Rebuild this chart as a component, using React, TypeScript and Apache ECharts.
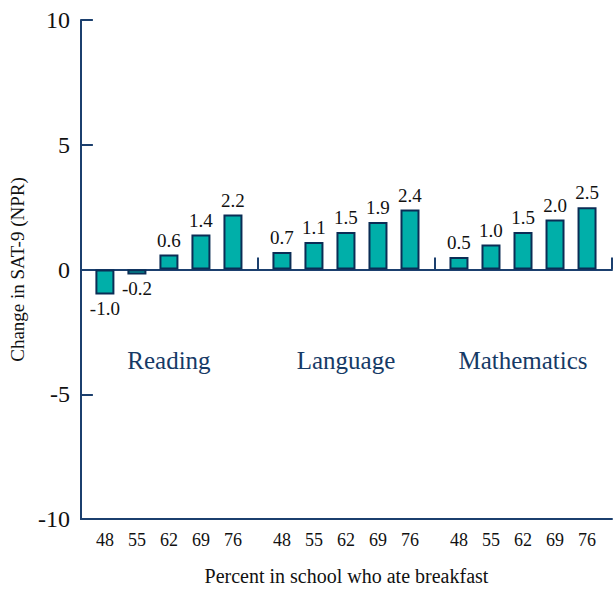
import React, { useEffect, useRef } from "react";
import * as echarts from "echarts";

// ---- data ----
const subjects = ["Reading", "Language", "Mathematics"];
const breakfastPct = ["48", "55", "62", "69", "76"];
const reading = [-1.0, -0.2, 0.6, 1.4, 2.2];
const language = [0.7, 1.1, 1.5, 1.9, 2.4];
const mathematics = [0.5, 1.0, 1.5, 2.0, 2.5];
const yMin = -10;
const yMax = 10;
const yStep = 5;

// ---- layout (slot units on a value x-axis) ----
const GROUP = 5.53;
const OFFSET = 0.75;
const NAVY = "#1b3f6e";
const LABEL_NAVY = "#163a66";
const BAR_FILL = "#00afa9";
const BAR_EDGE = "#0b2d55";
const SERIF = "Liberation Serif";

export default function App() {
  const ref = useRef<HTMLDivElement>(null);

  useEffect(() => {
    if (!ref.current) return;
    const chart = echarts.init(ref.current, undefined, { renderer: "svg" });

    const groups = [reading, language, mathematics];
    const positions: number[] = [];
    const barData: any[] = [];
    groups.forEach((vals, g) => {
      vals.forEach((v, i) => {
        const x = g * GROUP + OFFSET + i;
        positions.push(x);
        barData.push({
          value: [x, v],
          label: { position: v < 0 ? "bottom" : "top" },
        });
      });
    });
    const groupCenters = subjects.map((s, g) => ({
      value: [g * GROUP + OFFSET + 2, -3.5],
      name: s,
    }));
    const boundaries = subjects.map((_, g) => (g + 1) * GROUP);
    const xMax = subjects.length * GROUP;

    chart.setOption({
      animation: false,
      backgroundColor: "#ffffff",
      grid: { left: 76, right: 1, top: 20, bottom: 66, containLabel: false },
      xAxis: [
        {
          type: "value",
          position: "bottom",
          min: 0,
          max: xMax,
          name: "Percent in school who ate breakfast",
          nameLocation: "middle",
          nameGap: 47,
          nameTextStyle: { fontFamily: SERIF, fontSize: 20, color: "#111" },
          axisLine: { show: true, onZero: false, lineStyle: { color: NAVY, width: 2 } },
          axisTick: { show: false },
          splitLine: { show: false },
          axisLabel: {
            customValues: positions,
            margin: 12,
            fontFamily: SERIF,
            fontSize: 18,
            color: "#111",
            formatter: (val: number) => {
              const idx = positions.findIndex((p) => Math.abs(p - val) < 1e-6);
              return idx >= 0 ? breakfastPct[idx % breakfastPct.length] : "";
            },
          },
        },
        {
          type: "value",
          position: "top",
          min: 0,
          max: xMax,
          axisLine: { show: true, onZero: true, lineStyle: { color: NAVY, width: 2 } },
          axisTick: {
            show: true,
            inside: false,
            length: 12,
            customValues: boundaries,
            lineStyle: { color: NAVY, width: 2 },
          },
          axisLabel: { show: false },
          splitLine: { show: false },
        },
      ],
      yAxis: {
        type: "value",
        min: yMin,
        max: yMax,
        interval: yStep,
        name: "Change in SAT-9 (NPR)",
        nameLocation: "middle",
        nameGap: 47,
        nameTextStyle: { fontFamily: SERIF, fontSize: 19, color: "#111" },
        axisLine: { show: true, onZero: false, lineStyle: { color: NAVY, width: 2 } },
        axisTick: { show: true, inside: true, length: 12, lineStyle: { color: NAVY, width: 2 } },
        axisLabel: {
          margin: 11,
          fontFamily: SERIF,
          fontSize: 24,
          color: "#111",
          padding: [7, 0, 0, 0],
        },
        splitLine: { show: false },
      },
      series: [
        {
          type: "bar",
          xAxisIndex: 0,
          barWidth: 19,
          data: barData,
          itemStyle: { color: BAR_FILL, borderColor: BAR_EDGE, borderWidth: 2 },
          label: {
            show: true,
            distance: 5,
            fontFamily: SERIF,
            fontSize: 19,
            color: "#111",
            formatter: (p: any) => Number(p.value[1]).toFixed(1),
          },
        },
        {
          type: "scatter",
          xAxisIndex: 0,
          symbolSize: 1,
          itemStyle: { color: "rgba(0,0,0,0)" },
          data: groupCenters,
          label: {
            show: true,
            position: "top",
            distance: -17,
            fontFamily: SERIF,
            fontSize: 25,
            color: LABEL_NAVY,
            textBorderWidth: 0,
            opacity: 1,
            formatter: (p: any) => p.name,
          },
          emphasis: { disabled: true },
          silent: true,
        },
      ],
    });

    return () => chart.dispose();
  }, []);

  return (
    <div
      ref={ref}
      style={{ position: "absolute", left: 0, top: 0, width: 613, height: 591 }}
    />
  );
}
